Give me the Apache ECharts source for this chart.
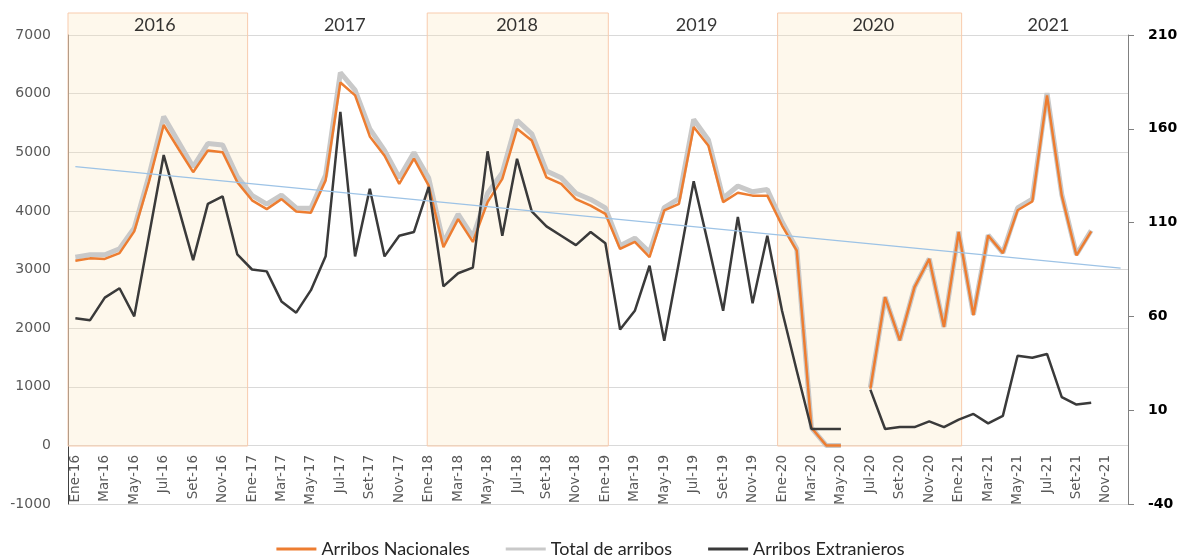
<!DOCTYPE html>
<html>
<head>
<meta charset="utf-8">
<script src="https://cdn.jsdelivr.net/npm/echarts@6/dist/echarts.min.js"></script>
<style>
  html, body { margin: 0; padding: 0; background: #fff; }
  #main { width: 1181px; height: 555px; }
</style>
</head>
<body>
<div id="main"></div>
<script>
// categorias: meses de Ene-16 a Dic-21
var meses = ['Ene', 'Feb', 'Mar', 'Abr', 'May', 'Jun', 'Jul', 'Ago', 'Set', 'Oct', 'Nov', 'Dic'];
var anios = ['16', '17', '18', '19', '20', '21'];
var categorias = [];
anios.forEach(function (a) { meses.forEach(function (m) { categorias.push(m + '-' + a); }); });

// eje izquierdo
var nacionales = [
  3150, 3190, 3180, 3280, 3650, 4500, 5465, 5060, 4660, 5030, 5000, 4490,
  4180, 4030, 4200, 3990, 3970, 4520, 6190, 5970, 5270, 4940, 4460, 4890,
  4430, 3380, 3860, 3470, 4150, 4545, 5400, 5200, 4570, 4460, 4200, 4090,
  3950, 3350, 3470, 3210, 4010, 4120, 5430, 5110, 4150, 4310, 4260, 4260,
  3750, 3320, 300, 0, 0, null, 966, 2530, 1790, 2700, 3180, 2020,
  3640, 2220, 3580, 3280, 4010, 4160, 5970, 4260, 3240, 3650, null, null
];
var totalArribos = [
  3210, 3250, 3250, 3355, 3710, 4600, 5610, 5180, 4750, 5150, 5125, 4585,
  4265, 4115, 4270, 4050, 4045, 4610, 6360, 6060, 5400, 5030, 4565, 4995,
  4560, 3455, 3945, 3555, 4300, 4650, 5545, 5315, 4680, 4565, 4300, 4195,
  4050, 3405, 3535, 3295, 4055, 4210, 5560, 5210, 4215, 4425, 4325, 4365,
  3815, 3350, 300, 0, 0, null, 987, 2530, 1790, 2700, 3185, 2020,
  3645, 2230, 3585, 3285, 4050, 4200, 6010, 4280, 3255, 3665, null, null
];
// eje derecho
var extranjeros = [
  59, 58, 70, 75, 60, 103, 146, 118, 90, 120, 124, 93,
  85, 84, 68, 62, 74, 92, 169, 92, 128, 92, 103, 105,
  129, 76, 83, 86, 148, 103, 144, 116, 108, 103, 98, 105,
  99, 53, 63, 87, 47, 89, 132, 98, 63, 113, 67, 103,
  63, 31, 0, 0, 0, null, 21, 0, 1, 1, 4, 1,
  5, 8, 3, 7, 39, 38, 40, 17, 13, 14, null, null
];
var tendencia = [4756, 3022];   // inicio y fin de la linea de tendencia

// franjas de años y etiquetas
var franjaInicio = [-0.5, 23.9, 47.7];
var franjaFin = [11.7, 36.2, 60.2];
var aniosTexto = ['2016', '2017', '2018', '2019', '2020', '2021'];
var aniosPos = [5.4, 18.3, 30.0, 42.2, 54.2, 66.1];

var chart = echarts.init(document.getElementById('main'));

var option = {
  animation: false,
  legend: {
    data: ['Arribos Nacionales', 'Total de arribos', 'Arribos Extranjeros'],
    top: 535,
    left: 'center',
    icon: 'rect',
    itemWidth: 40,
    itemHeight: 3,
    itemGap: 36,
    textStyle: { fontFamily: 'Lato', fontSize: 18, color: '#262626' }
  },
  grid: [
    { left: 68, right: 53, top: 35, bottom: 51, outerBoundsMode: 'none' },
    { left: 68, right: 53, top: 13, bottom: 109, outerBoundsMode: 'none' }
  ],
  xAxis: [
    {
      type: 'category',
      gridIndex: 0,
      data: categorias,
      boundaryGap: true,
      axisLine: { show: false },
      axisTick: { show: false },
      axisLabel: { show: false }
    },
    { type: 'value', gridIndex: 1, min: -0.5, max: 71.5, show: false },
    {
      // etiquetas del eje X a la altura del cero
      type: 'category',
      gridIndex: 1,
      position: 'bottom',
      data: categorias,
      boundaryGap: true,
      axisLine: { show: false },
      axisTick: { show: false },
      axisLabel: {
        interval: 1, rotate: 90, margin: 9,
        fontFamily: 'DejaVu Sans', fontSize: 13.5, color: '#595959'
      }
    }
  ],
  yAxis: [
    {
      type: 'value', gridIndex: 0,
      min: -1000, max: 7000, interval: 1000,
      axisLine: { show: true, lineStyle: { color: '#404040' } },
      axisTick: { show: false },
      axisLabel: {
        margin: 17, fontFamily: 'DejaVu Sans', fontSize: 14, color: '#595959',
        formatter: function (v) { return String(v); }
      },
      splitLine: { lineStyle: { color: '#d9d9d9' } }
    },
    {
      type: 'value', gridIndex: 0, position: 'right',
      min: -40, max: 210, interval: 50,
      axisLine: { show: true, lineStyle: { color: '#808080' } },
      axisTick: { show: true, length: 6, lineStyle: { color: '#808080' } },
      axisLabel: { margin: 20, fontFamily: 'DejaVu Sans', fontSize: 14, fontWeight: 'bold', color: '#000' },
      splitLine: { show: false }
    },
    { type: 'value', gridIndex: 1, min: 0, max: 1, show: false }
  ],
  series: [
    {
      name: 'Total de arribos',
      type: 'line',
      data: totalArribos,
      symbol: 'none',
      z: 2,
      lineStyle: { color: '#c9c9c9', width: 5 },
      itemStyle: { color: '#c9c9c9' },
      markLine: {
        silent: true,
        symbol: ['none', 'none'],
        label: { show: false },
        lineStyle: { color: '#9dc3e6', width: 1.2, type: 'solid' },
        data: [[{ coord: [categorias[0], tendencia[0]] }, { coord: [categorias[71], tendencia[1]] }]]
      }
    },
    {
      name: 'Arribos Nacionales',
      type: 'line',
      data: nacionales,
      symbol: 'none',
      z: 3,
      lineStyle: { color: '#ed7d31', width: 2.5 },
      itemStyle: { color: '#ed7d31' }
    },
    {
      name: 'Arribos Extranjeros',
      type: 'line',
      yAxisIndex: 1,
      data: extranjeros,
      symbol: 'none',
      z: 4,
      lineStyle: { color: '#3a3a3a', width: 2.5 },
      itemStyle: { color: '#3a3a3a' }
    },
    {
      name: 'franjas',
      type: 'line',
      xAxisIndex: 1,
      yAxisIndex: 2,
      data: [],
      z: 5,
      markArea: {
        silent: true,
        itemStyle: { color: 'rgba(250,228,185,0.27)', borderColor: '#f8cbad', borderWidth: 1 },
        data: franjaInicio.map(function (x0, i) {
          return [{ coord: [x0, 0] }, { coord: [franjaFin[i], 1] }];
        })
      }
    },
    {
      name: 'anios',
      type: 'scatter',
      xAxisIndex: 1,
      yAxisIndex: 2,
      symbolSize: 0,
      silent: true,
      z: 6,
      data: aniosPos.map(function (x, i) { return { value: [x, 0.972], name: aniosTexto[i] }; }),
      label: {
        show: true,
        position: 'inside',
        formatter: '{b}',
        fontFamily: 'Lato',
        fontSize: 18,
        color: '#000'
      }
    }
  ]
};

chart.setOption(option);
</script>
</body>
</html>
